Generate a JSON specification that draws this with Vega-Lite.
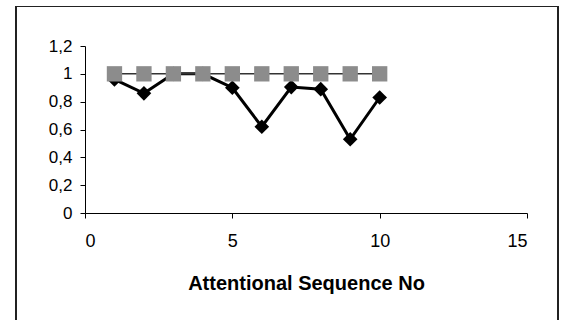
{
  "$schema": "https://vega.github.io/schema/vega-lite/v6.json",
  "autosize": "none",
  "width": 442,
  "height": 167,
  "padding": {"left": 85, "top": 46, "right": 36, "bottom": 107},
  "background": "white",
  "config": {
    "view": {"stroke": null},
    "font": "Liberation Sans",
    "axis": {
      "domainColor": "black",
      "tickColor": "black",
      "labelColor": "black",
      "titleColor": "black",
      "labelFont": "Liberation Sans",
      "titleFont": "Liberation Sans",
      "grid": false
    }
  },
  "data": {
    "values": [
      {"seq": 1, "series": "reference", "value": 1},
      {"seq": 2, "series": "reference", "value": 1},
      {"seq": 3, "series": "reference", "value": 1},
      {"seq": 4, "series": "reference", "value": 1},
      {"seq": 5, "series": "reference", "value": 1},
      {"seq": 6, "series": "reference", "value": 1},
      {"seq": 7, "series": "reference", "value": 1},
      {"seq": 8, "series": "reference", "value": 1},
      {"seq": 9, "series": "reference", "value": 1},
      {"seq": 10, "series": "reference", "value": 1},
      {"seq": 1, "series": "measured", "value": 0.96},
      {"seq": 2, "series": "measured", "value": 0.86},
      {"seq": 3, "series": "measured", "value": 1},
      {"seq": 4, "series": "measured", "value": 1},
      {"seq": 5, "series": "measured", "value": 0.9},
      {"seq": 6, "series": "measured", "value": 0.62},
      {"seq": 7, "series": "measured", "value": 0.905},
      {"seq": 8, "series": "measured", "value": 0.89},
      {"seq": 9, "series": "measured", "value": 0.53},
      {"seq": 10, "series": "measured", "value": 0.83}
    ]
  },
  "encoding": {
    "x": {
      "field": "seq",
      "type": "quantitative",
      "scale": {"domain": [0, 15], "nice": false, "zero": false},
      "axis": {
        "title": "Attentional Sequence No",
        "values": [0, 5, 10, 15],
        "tickSize": 5,
        "labelFontSize": 18,
        "labelPadding": 14,
        "titleFontSize": 20,
        "titleFontWeight": "bold",
        "titlePadding": 23
      }
    },
    "y": {
      "field": "value",
      "type": "quantitative",
      "scale": {"domain": [0, 1.2], "nice": false},
      "axis": {
        "title": null,
        "values": [0, 0.2, 0.4, 0.6, 0.8, 1, 1.2],
        "format": "~g",
        "labelExpr": "replace(datum.label, '.', ',')",
        "tickSize": 5,
        "labelFontSize": 17,
        "labelPadding": 8
      }
    }
  },
  "layer": [
    {
      "mark": {"type": "rect", "fill": null, "stroke": "#222", "strokeWidth": 1.2, "clip": false},
      "encoding": {
        "x": {"datum": -2.34, "type": "quantitative"},
        "x2": {"datum": 16.05},
        "y": {"datum": 1.484, "type": "quantitative"},
        "y2": {"datum": -0.9}
      }
    },
    {
      "transform": [{"filter": "datum.series == 'measured'"}],
      "mark": {"type": "line", "color": "black", "strokeWidth": 3}
    },
    {
      "transform": [{"filter": "datum.series == 'measured'"}],
      "mark": {"type": "point", "shape": "diamond", "filled": true, "color": "black", "size": 215, "opacity": 1}
    },
    {
      "transform": [{"filter": "datum.series == 'reference'"}],
      "mark": {"type": "line", "color": "#333", "strokeWidth": 1.5}
    },
    {
      "transform": [{"filter": "datum.series == 'reference'"}],
      "mark": {"type": "point", "shape": "square", "filled": true, "color": "#8c8c8c", "size": 235, "opacity": 1}
    }
  ]
}
